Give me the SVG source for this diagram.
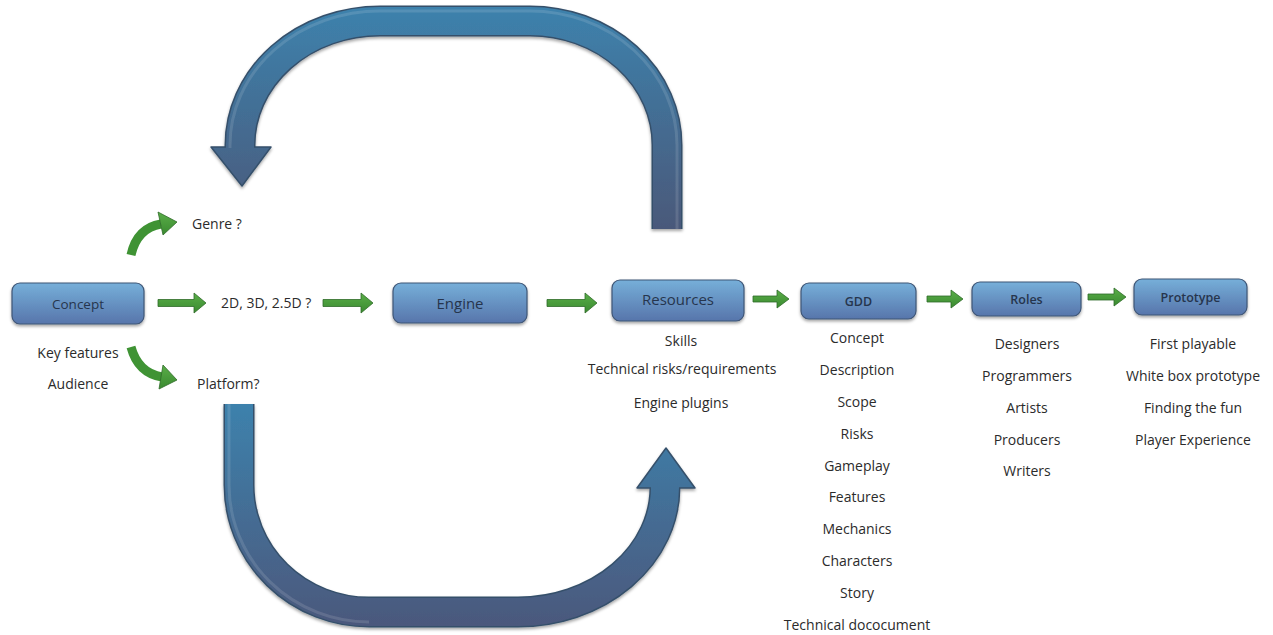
<svg xmlns="http://www.w3.org/2000/svg" width="1273" height="635" viewBox="0 0 1273 635">
  <defs>
    <linearGradient id="boxFill" x1="0" y1="0" x2="0" y2="1">
      <stop offset="0" stop-color="#76afd9"/>
      <stop offset="1" stop-color="#5775ab"/>
    </linearGradient>
    <linearGradient id="loopTop" gradientUnits="userSpaceOnUse" x1="0" y1="5" x2="0" y2="232">
      <stop offset="0" stop-color="#3d82ad"/>
      <stop offset="1" stop-color="#4a5879"/>
    </linearGradient>
    <linearGradient id="loopBottom" gradientUnits="userSpaceOnUse" x1="0" y1="400" x2="0" y2="627">
      <stop offset="0" stop-color="#3d82ad"/>
      <stop offset="1" stop-color="#4b587c"/>
    </linearGradient>
    <linearGradient id="greenFill" x1="0" y1="0" x2="0" y2="1">
      <stop offset="0" stop-color="#5aae48"/>
      <stop offset="1" stop-color="#3a8a30"/>
    </linearGradient>
    <filter id="shadow" x="-10%" y="-20%" width="120%" height="150%">
      <feDropShadow dx="0" dy="2" stdDeviation="1.5" flood-color="#000" flood-opacity="0.35"/>
    </filter>
  </defs>
  <style>
    .box { fill: url(#boxFill); stroke: #3f5676; stroke-width: 1.2; filter: url(#shadow); }
    .lbl { font-family: "Open Sans", "Liberation Sans", sans-serif; fill: #26354d; text-anchor: middle; }
    .lbl.sb { font-weight: 600; font-size: 12.5px; }
    .txt { font-family: "Open Sans", "Liberation Sans", sans-serif; font-size: 14px; fill: #2b2b2b; text-anchor: middle; }
    .txtl { font-family: "Open Sans", "Liberation Sans", sans-serif; font-size: 14px; fill: #2b2b2b; }
    .ga { fill: url(#greenFill); stroke: #2f6b28; stroke-width: 0.8; stroke-linejoin: round; }
    .gs { fill: none; stroke: #3f9334; stroke-width: 9; }
    .edge { fill: none; stroke: #35506b; stroke-width: 31; }
    .bodyTop { fill: none; stroke: url(#loopTop); stroke-width: 28; }
    .bodyBot { fill: none; stroke: url(#loopBottom); stroke-width: 28; }
    .shine { fill: none; stroke: #ffffff; stroke-opacity: 0.12; stroke-width: 3; }
  </style>

  <!-- connectors -->
  <g id="connectors">
    <!-- big loop back over the top -->
    <g id="loop-top" filter="url(#shadow)">
      <path class="edge" d="M 667 229 L 667 145 A 137 124 0 0 0 530 21 L 380 21 A 140 124 0 0 0 240 145 L 240 148"/>
      <polygon points="211,147 271,147 242,186" fill="url(#loopTop)" stroke="#35506b" stroke-width="1.5" stroke-linejoin="round"/>
      <path class="bodyTop" d="M 667 229 L 667 145 A 137 124 0 0 0 530 21 L 380 21 A 140 124 0 0 0 240 145 L 240 149"/>
      <path class="shine" d="M 677 229 L 677 145 A 147 134 0 0 0 530 11 L 380 11 A 150 134 0 0 0 230 145 L 230 148"/>
    </g>
    <!-- big loop under the bottom -->
    <g id="loop-bottom" filter="url(#shadow)">
      <path class="edge" d="M 239 404 L 239 485 A 130 127 0 0 0 369 612 L 518 612 A 147 125 0 0 0 665 487 L 665 486"/>
      <polygon points="637,488 695,488 666,448" fill="url(#loopBottom)" stroke="#35506b" stroke-width="1.5" stroke-linejoin="round"/>
      <path class="bodyBot" d="M 239 404 L 239 485 A 130 127 0 0 0 369 612 L 518 612 A 147 125 0 0 0 665 487 L 665 486"/>
      <path class="shine" d="M 229 404 L 229 485 A 140 137 0 0 0 369 622"/>
    </g>

    <!-- curved green arrows -->
    <path class="gs" d="M 131 255 Q 137 228 161 224"/>
    <polygon class="ga" points="158,212 177,222 163,235"/>
    <path class="gs" d="M 131 347 Q 138 373 162 377"/>
    <polygon class="ga" points="163,365 177,380 159,389"/>

    <!-- straight green arrows -->
    <polygon class="ga" points="158,299.5 194,299.5 194,293 206,303 194,313 194,306.5 158,306.5"/>
    <polygon class="ga" points="323,299.5 361,299.5 361,293 373,303 361,313 361,306.5 323,306.5"/>
    <polygon class="ga" points="547,299.5 585,299.5 585,293 597,303 585,313 585,306.5 547,306.5"/>
    <polygon class="ga" points="753,296 777,296 777,290 789,299 777,308 777,302 753,302"/>
    <polygon class="ga" points="927,296 951,296 951,290 963,299 951,308 951,302 927,302"/>
    <polygon class="ga" points="1088,294 1114,294 1114,288 1126,297 1114,306 1114,300 1088,300"/>
  </g>

  <!-- nodes -->
  <g id="concept">
    <rect class="box" x="12" y="283" width="132" height="41" rx="8"/>
    <text class="lbl" x="78" y="309" font-size="13.5">Concept</text>
  </g>
  <g id="engine">
    <rect class="box" x="393" y="283" width="134" height="40" rx="8"/>
    <text class="lbl" x="460" y="308.5" font-size="15">Engine</text>
  </g>
  <g id="resources">
    <rect class="box" x="612" y="280" width="132" height="41" rx="8"/>
    <text class="lbl" x="678" y="305" font-size="15">Resources</text>
  </g>
  <g id="gdd">
    <rect class="box" x="801" y="283" width="115" height="36" rx="8"/>
    <text class="lbl sb" x="858.5" y="305.5">GDD</text>
  </g>
  <g id="roles">
    <rect class="box" x="972" y="282" width="109" height="34" rx="8"/>
    <text class="lbl sb" x="1026.5" y="303.5">Roles</text>
  </g>
  <g id="prototype">
    <rect class="box" x="1134" y="279" width="113" height="36" rx="8"/>
    <text class="lbl sb" x="1190.5" y="301.5">Prototype</text>
  </g>

  <!-- free labels -->
  <g id="concept-notes">
    <text class="txt" x="78" y="358">Key features</text>
    <text class="txt" x="78" y="389">Audience</text>
  </g>
  <g id="questions">
    <text class="txtl" x="192" y="229">Genre ?</text>
    <text class="txtl" x="221" y="308">2D, 3D, 2.5D ?</text>
    <text class="txtl" x="197" y="389">Platform?</text>
  </g>
  <g id="resources-list">
    <text class="txt" x="681" y="346">Skills</text>
    <text class="txt" x="682" y="374">Technical risks/requirements</text>
    <text class="txt" x="681" y="408">Engine plugins</text>
  </g>
  <g id="gdd-list">
    <text class="txt" x="857" y="343">Concept</text>
    <text class="txt" x="857" y="375">Description</text>
    <text class="txt" x="857" y="407">Scope</text>
    <text class="txt" x="857" y="439">Risks</text>
    <text class="txt" x="857" y="471">Gameplay</text>
    <text class="txt" x="857" y="502">Features</text>
    <text class="txt" x="857" y="534">Mechanics</text>
    <text class="txt" x="857" y="566">Characters</text>
    <text class="txt" x="857" y="598">Story</text>
    <text class="txt" x="857" y="630">Technical dococument</text>
  </g>
  <g id="roles-list">
    <text class="txt" x="1027" y="349">Designers</text>
    <text class="txt" x="1027" y="381">Programmers</text>
    <text class="txt" x="1027" y="413">Artists</text>
    <text class="txt" x="1027" y="445">Producers</text>
    <text class="txt" x="1027" y="476">Writers</text>
  </g>
  <g id="prototype-list">
    <text class="txt" x="1193" y="349">First playable</text>
    <text class="txt" x="1193" y="381">White box prototype</text>
    <text class="txt" x="1193" y="413">Finding the fun</text>
    <text class="txt" x="1193" y="445">Player Experience</text>
  </g>
</svg>
